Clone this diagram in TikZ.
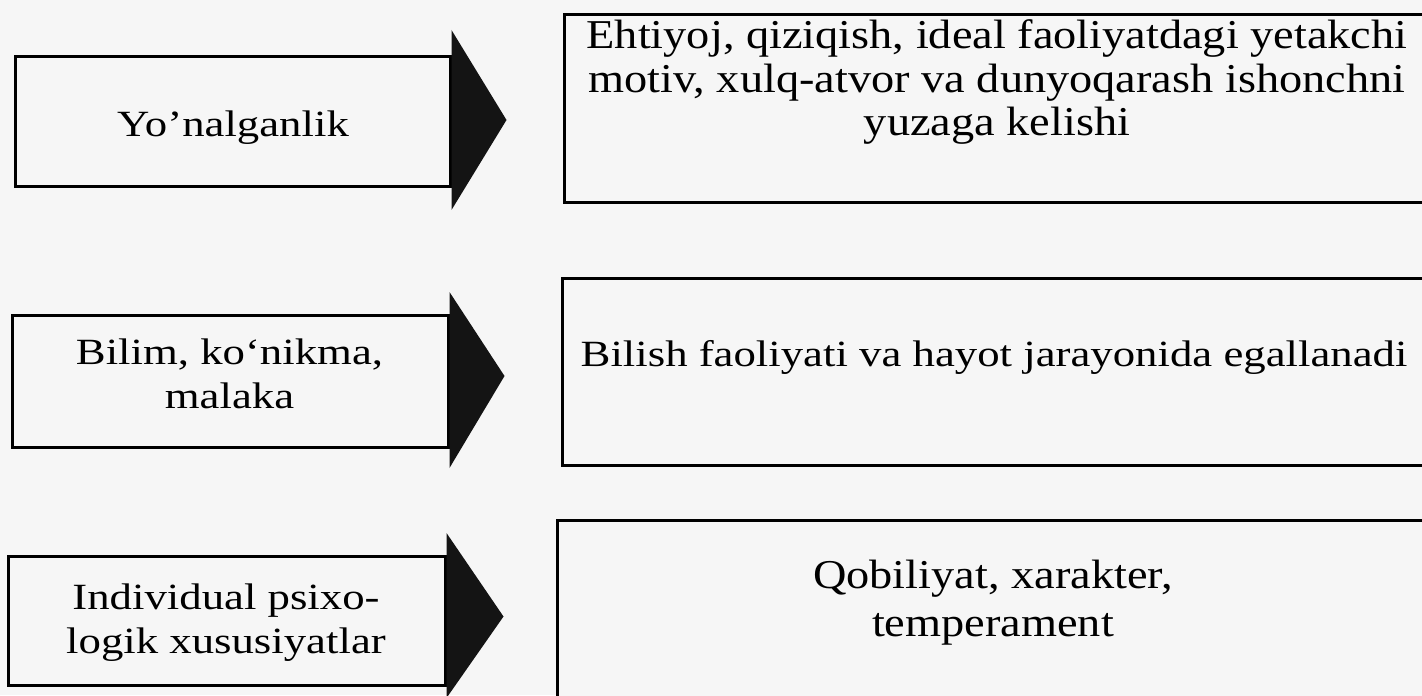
\documentclass[tikz,border=0pt]{standalone}
\usepackage{fontspec}
\setmainfont{Liberation Serif}
\newfontfamily\rfont[FakeStretch=1.13]{Liberation Serif}
\newfontfamily\lfont[FakeStretch=1.21]{Liberation Serif}
\usetikzlibrary{calc}
\definecolor{paper}{RGB}{246,246,246}
\begin{document}
\begin{tikzpicture}[x=0.5pt,y=-0.5pt,
  lbox/.style={draw=black, line width=1.5pt, fill=paper, inner sep=0pt},
  rbox/.style={draw=black, line width=1.5pt, fill=paper, inner sep=0pt},
  ltext/.style={align=center, inner sep=0pt, font=\lfont\fontsize{18.5}{22}\selectfont},
  rtext/.style={align=center, inner sep=0pt, font=\rfont\fontsize{20.5}{21.75}\selectfont},
  ctext/.style={align=center, inner sep=0pt, font=\rfont\fontsize{20.5}{24}\selectfont},
  tri/.style={fill=black!92}]
\clip (0,0) rectangle (1422,695);
\fill[paper] (0,0) rectangle (1422,695);
% left boxes
\node[lbox, minimum width=217.5pt, minimum height=65pt] (L1) at (232.5,122) {};
\node[lbox, minimum width=218pt, minimum height=66pt] (L2) at (230,381) {};
\node[lbox, minimum width=218.5pt, minimum height=64.5pt] (L3) at (226.5,620.5) {};
\node[ltext, anchor=base] (t1) at (233,137) {Yo’nalganlik};
\node[ltext] (t2) at (229.5,374) {Bilim, ko‘nikma,\\malaka};
\node[ltext] (t3) at (226,623) {Individual psixo-\\logik xususiyatlar};
% triangles
\fill[tri] ($(L1.east)+(0,-92)$) -- ($(L1.east)+(55,-2)$) -- ($(L1.east)+(0,88)$) -- cycle;
\fill[tri] ($(L2.east)+(0,-89)$) -- ($(L2.east)+(55,-5)$) -- ($(L2.east)+(0,87)$) -- cycle;
\fill[tri] ($(L3.east)+(0,-87.5)$) -- ($(L3.east)+(57,-4)$) -- ($(L3.east)+(0,77.5)$) -- cycle;
% right boxes
\node[rbox, minimum width=437.5pt, minimum height=94pt] (A) at (1002,109) {};
\node[rbox, minimum width=438.5pt, minimum height=93.5pt] (B) at (1001,371.5) {};
\node[rbox, minimum width=441.5pt, minimum height=100pt] (C) at (998.5,620) {};
% texts
\node[rtext] (tA) at (997,82) {Ehtiyoj, qiziqish, ideal faoliyatdagi yetakchi\\motiv, xulq-atvor va dunyoqarash ishonchni\\yuzaga kelishi};
\node[ltext, anchor=base] (tB) at (994,366) {Bilish faoliyati va hayot jarayonida egallanadi};
\node[ctext] (tC) at (993,603) {Qobiliyat, xarakter,\\temperament};
\end{tikzpicture}
\end{document}
